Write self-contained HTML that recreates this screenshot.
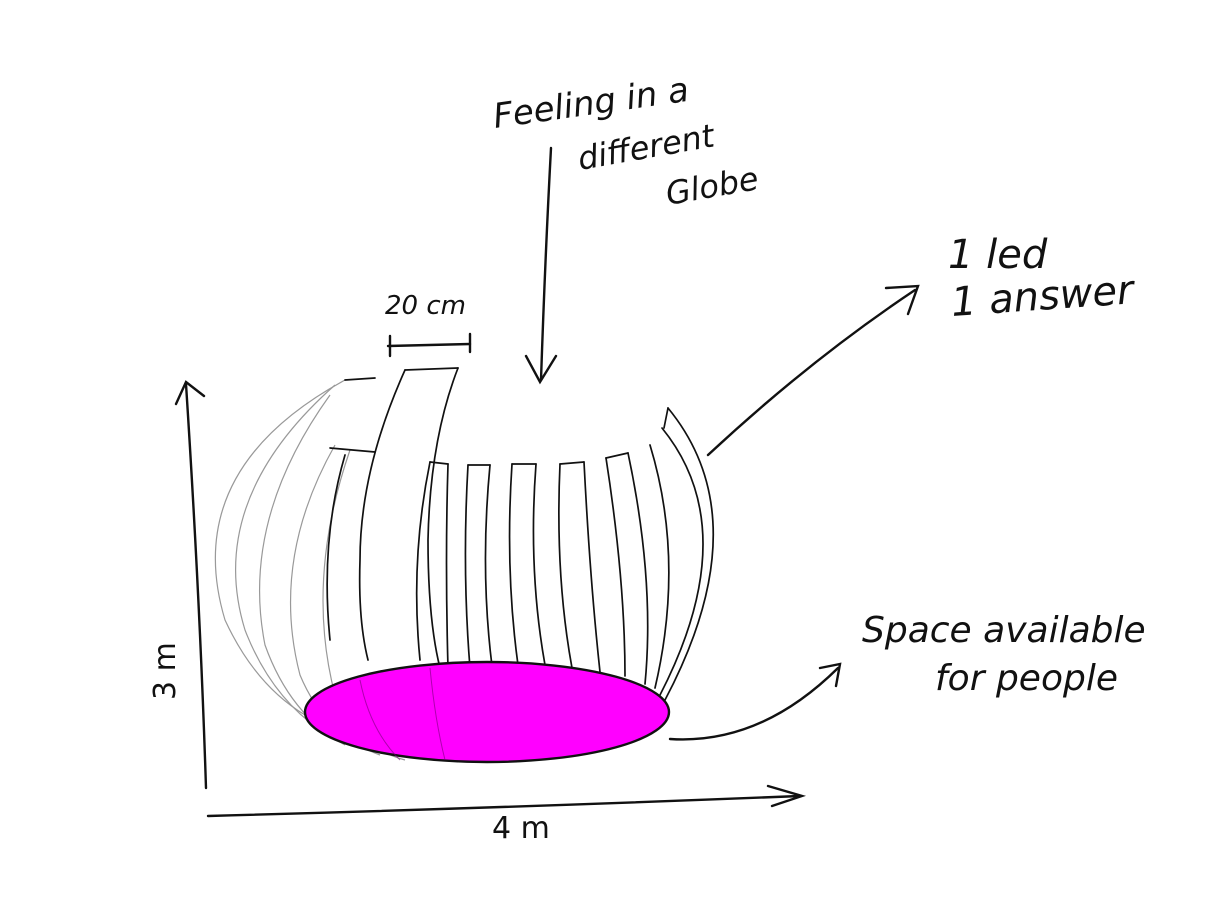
<!DOCTYPE html>
<html><head><meta charset="utf-8"><style>
html,body{margin:0;padding:0;background:#fff;}
svg{display:block}
text{font-family:"DejaVu Sans","Liberation Sans",sans-serif;fill:#111;}
</style></head><body>
<svg width="1219" height="898" viewBox="0 0 1219 898" xmlns="http://www.w3.org/2000/svg">
<g fill="none" stroke="#111" stroke-width="2.4" stroke-linecap="round">
<path d="M206 788 Q200 600 186 384"/>
<path d="M176 404 L186 382 L204 396"/>
<path d="M208 816 Q500 808 800 796"/>
<path d="M768 786 L802 796 L772 806"/>
<path d="M388 346 L470 344"/><path d="M390 336 L390 356"/><path d="M470 334 L470 352"/>
<path d="M551 148 Q545 260 541 380"/>
<path d="M526 356 L540 382 L556 356"/>
<path d="M708 455 Q810 360 915 290"/>
<path d="M886 288 L918 286 L908 314"/>
<path d="M670 739 Q760 745 838 668"/>
<path d="M820 668 L840 664 L836 686"/>
</g>
<g fill="none" stroke="#999" stroke-width="1.2">
<path d="M345 380 Q180 470 225 620 Q255 685 305 715"/>
<path d="M335 385 Q205 500 245 630 Q270 695 320 730"/>
<path d="M330 395 Q240 520 265 645 Q290 715 345 745"/>
<path d="M335 445 Q270 560 300 675 Q325 735 380 755"/>
<path d="M350 450 Q305 580 335 695 Q358 748 405 760"/>
</g>
<g fill="none" stroke="#111" stroke-width="1.7" stroke-linecap="round">
<path d="M345 380 L375 378"/>
<path d="M405 370 L458 368"/>
<path d="M405 370 Q360 470 360 560 Q358 620 368 660"/>
<path d="M458 368 Q430 440 428 540 Q428 620 440 668"/>
<path d="M330 448 L375 452"/>
<path d="M345 455 Q320 540 330 640"/>
<path d="M430 462 Q410 560 420 660"/>
<path d="M448 464 Q445 560 448 668"/>
<path d="M468 465 Q462 570 470 668"/>
<path d="M490 465 Q480 570 492 666"/>
<path d="M512 464 Q505 570 518 665"/>
<path d="M536 464 Q528 570 545 665"/>
<path d="M560 464 Q555 575 572 668"/>
<path d="M584 462 Q590 580 600 672"/>
<path d="M606 458 Q625 580 625 676"/>
<path d="M628 453 Q655 580 645 684"/>
<path d="M650 445 Q685 560 655 688"/>
<path d="M430 462 L448 464 M468 465 L490 465 M512 464 L536 464 M560 464 L584 462 M606 458 L628 453"/>
<path d="M668 408 Q760 520 665 700"/>
<path d="M662 428 Q745 530 660 695"/>
<path d="M668 408 L664 428"/>
</g>
<ellipse cx="487" cy="712" rx="182" ry="50" fill="#ff00ff" stroke="#111" stroke-width="2.4"/>
<g fill="none" stroke="#7a007a" stroke-width="1" opacity="0.6">
<path d="M360 680 Q370 730 400 760"/><path d="M430 668 Q435 720 445 760"/>
</g>
<text x="495" y="128" font-size="34" transform="rotate(-8 495 128)" font-style="italic">Feeling in a</text>
<text x="580" y="170" font-size="32" transform="rotate(-10 580 170)" font-style="italic">different</text>
<text x="668" y="205" font-size="32" transform="rotate(-10 668 205)" font-style="italic">Globe</text>
<text x="948" y="268" font-size="40" font-style="italic">1 led</text>
<text x="952" y="316" font-size="40" font-style="italic" transform="rotate(-4 952 316)">1 answer</text>
<text x="862" y="642" font-size="36" font-style="italic">Space available</text>
<text x="935" y="690" font-size="36" font-style="italic">for people</text>
<text x="385" y="314" font-size="26" font-style="italic">20 cm</text>
<text x="175" y="700" font-size="30" transform="rotate(-90 175 700)">3 m</text>
<text x="492" y="838" font-size="30">4 m</text>
</svg>
</body></html>
